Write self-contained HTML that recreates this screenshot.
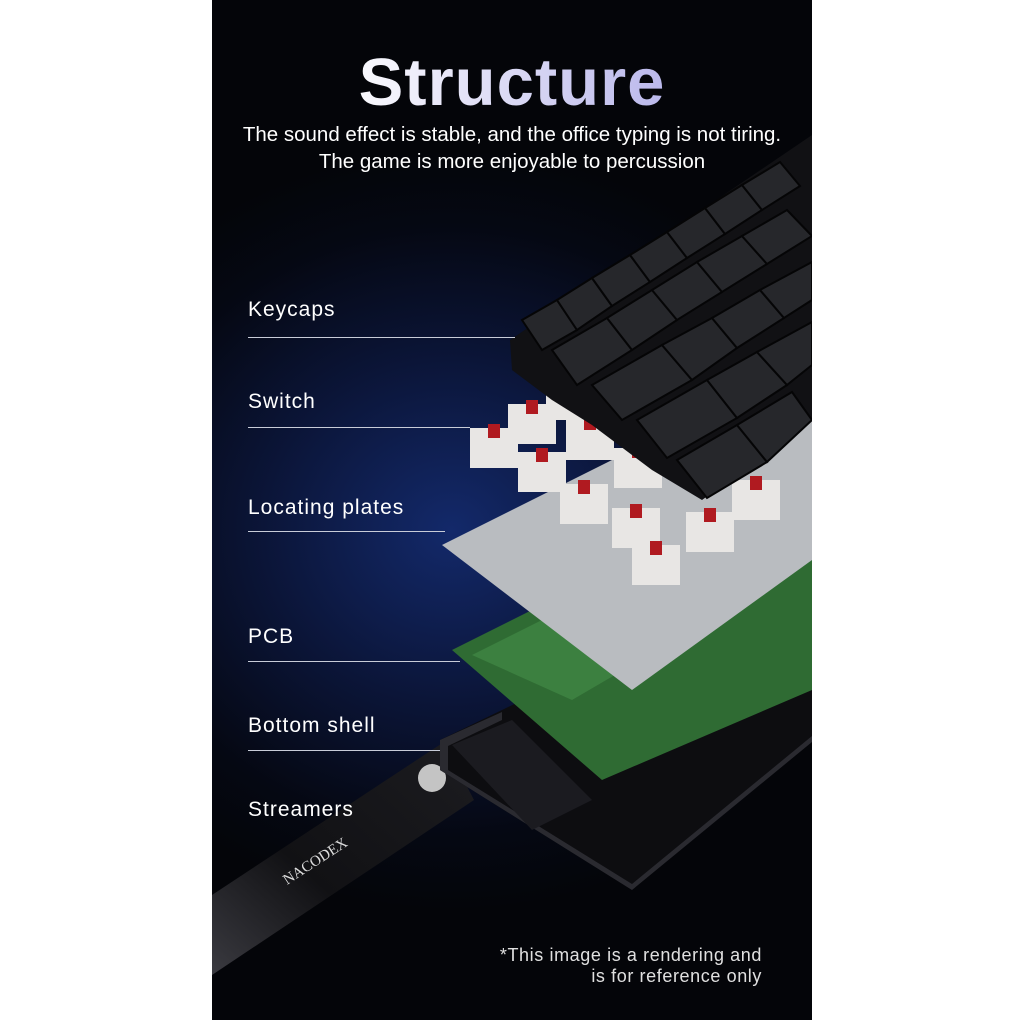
<!DOCTYPE html>
<html><head><meta charset="utf-8"><style>
html,body{margin:0;padding:0;width:1024px;height:1024px;background:#fff;overflow:hidden;font-family:"Liberation Sans",sans-serif}
#p{position:absolute;left:212px;top:0;width:600px;height:1020px;background:radial-gradient(ellipse 420px 380px at 40% 52%,#13296a 0%,#0b1538 45%,#050813 80%,#040509 100%);overflow:hidden}
.t{position:absolute;left:0;width:600px;text-align:center;color:#fff}
.l{position:absolute;left:36px;color:#fff;font-size:21px;letter-spacing:1px}
.ln{position:absolute;left:36px;height:1px;background:#c8ccd8}
</style></head><body>
<div id="p">
<svg width="600" height="1020" style="position:absolute;left:0;top:0">
 <defs><linearGradient id="st" x1="0" y1="1" x2="1" y2="0"><stop offset="0" stop-color="#3a3a40"/><stop offset="0.4" stop-color="#111114"/><stop offset="1" stop-color="#1c1c20"/></linearGradient></defs>
 <!-- strap -->
 <polygon points="0,895 232,742 262,800 0,975" fill="url(#st)"/>
 <circle cx="220" cy="778" r="14" fill="#c4c4c4"/>
 <text x="75" y="885" fill="#ddd" font-size="15" font-family="Liberation Serif" transform="rotate(-33 75 885)">NACODEX</text>
 <!-- bottom shell -->
 <polygon points="228,740 600,560 600,740 420,890 228,770" fill="#0d0d10"/>
 <polygon points="228,740 290,712 290,720 236,746 236,770 420,884 600,736 600,742 420,890 228,770" fill="#2a2a30"/>
 <polygon points="240,745 300,720 380,800 320,830" fill="#1b1b20"/>
 <!-- pcb -->
 <polygon points="240,650 600,470 600,690 390,780" fill="#2f6b33"/>
 <polygon points="260,655 600,485 600,560 360,700" fill="#3c8040"/>
 <!-- plate -->
 <polygon points="230,545 600,360 600,560 420,690" fill="#b9bcc0"/>
 <!-- switches -->
 <g fill="#e8e6e4">
  <rect x="258" y="428" width="48" height="40"/><rect x="296" y="404" width="48" height="40"/>
  <rect x="334" y="384" width="44" height="36"/><rect x="354" y="420" width="48" height="40"/>
  <rect x="306" y="452" width="48" height="40"/><rect x="348" y="484" width="48" height="40"/>
  <rect x="402" y="448" width="48" height="40"/><rect x="400" y="508" width="48" height="40"/>
  <rect x="474" y="512" width="48" height="40"/><rect x="420" y="545" width="48" height="40"/>
  <rect x="520" y="480" width="48" height="40"/>
 </g>
 <g fill="#b01a20">
  <rect x="276" y="424" width="12" height="14"/><rect x="314" y="400" width="12" height="14"/>
  <rect x="372" y="416" width="12" height="14"/><rect x="324" y="448" width="12" height="14"/>
  <rect x="366" y="480" width="12" height="14"/><rect x="420" y="444" width="12" height="14"/>
  <rect x="418" y="504" width="12" height="14"/><rect x="492" y="508" width="12" height="14"/>
  <rect x="438" y="541" width="12" height="14"/><rect x="538" y="476" width="12" height="14"/>
 </g>
 <!-- keycaps -->
 <polygon points="298,340 600,135 600,420 490,500 440,470 380,425 340,400 300,370" fill="#111114"/>
 <g fill="#26272b" stroke="#050506" stroke-width="2">
  <polygon points="310,320 345,300 365,330 330,350"/>
  <polygon points="345,300 380,278 400,306 365,330"/>
  <polygon points="380,278 418,255 438,282 400,306"/>
  <polygon points="418,255 455,232 475,258 438,282"/>
  <polygon points="455,232 493,208 513,234 475,258"/>
  <polygon points="493,208 530,185 550,210 513,234"/>
  <polygon points="530,185 568,162 588,186 550,210"/>
  <polygon points="340,350 395,318 420,350 365,385"/>
  <polygon points="395,318 440,290 465,320 420,350"/>
  <polygon points="440,290 485,262 510,292 465,320"/>
  <polygon points="485,262 530,236 555,264 510,292"/>
  <polygon points="530,236 575,210 600,236 555,264"/>
  <polygon points="380,385 450,345 480,380 410,420"/>
  <polygon points="450,345 500,318 525,348 480,380"/>
  <polygon points="500,318 548,290 572,318 525,348"/>
  <polygon points="548,290 600,262 600,300 572,318"/>
  <polygon points="425,420 495,380 525,418 455,458"/>
  <polygon points="495,380 545,352 575,385 525,418"/>
  <polygon points="545,352 600,322 600,365 575,385"/>
  <polygon points="465,460 525,425 555,462 495,498"/>
  <polygon points="525,425 580,392 600,420 555,462"/>
 </g>
</svg>
<div class="t" style="top:44px;font-size:67px;font-weight:bold;background:linear-gradient(90deg,#fff 20%,#a9a6e6 90%);-webkit-background-clip:text;background-clip:text;color:transparent;letter-spacing:1px">Structure</div>
<div class="t" style="top:123px;font-size:20.5px">The sound effect is stable, and the office typing is not tiring.</div>
<div class="t" style="top:150px;font-size:20.5px">The game is more enjoyable to percussion</div>
<div class="l" style="top:298px">Keycaps</div><div class="ln" style="top:337px;width:267px"></div>
<div class="l" style="top:390px">Switch</div><div class="ln" style="top:427px;width:222px"></div>
<div class="l" style="top:496px">Locating plates</div><div class="ln" style="top:531px;width:197px"></div>
<div class="l" style="top:625px">PCB</div><div class="ln" style="top:661px;width:212px"></div>
<div class="l" style="top:714px">Bottom shell</div><div class="ln" style="top:750px;width:192px"></div>
<div class="l" style="top:798px">Streamers</div>
<div style="position:absolute;right:50px;top:945px;color:#e0e0e0;font-size:18px;letter-spacing:0.6px;text-align:right;line-height:21px">*This image is a rendering and<br>is for reference only</div>
</div>
</body></html>
